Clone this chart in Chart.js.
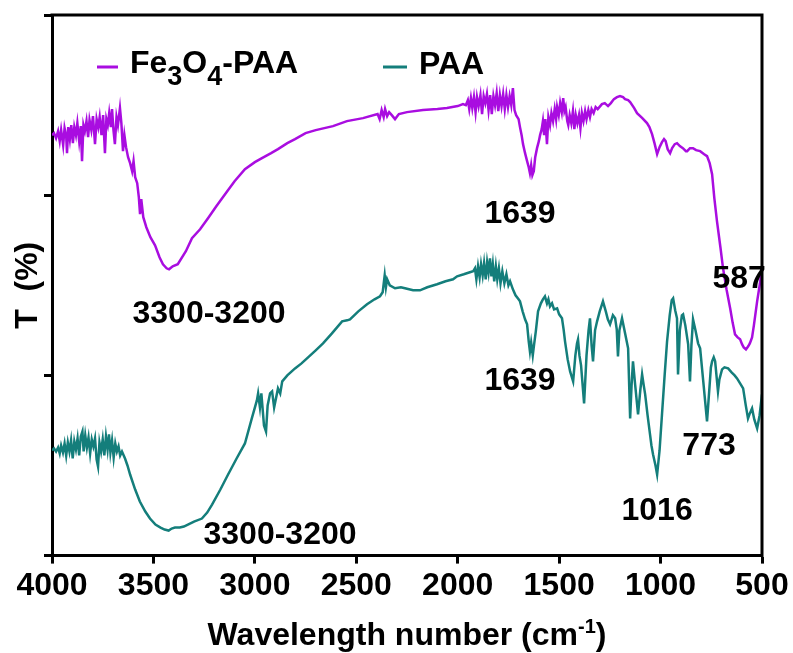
<!DOCTYPE html>
<html>
<head>
<meta charset="utf-8">
<script src="https://cdn.jsdelivr.net/npm/chart.js@4.4.1/dist/chart.umd.min.js"></script>
<style>
  html, body { margin: 0; padding: 0; background: #fff; }
  #wrap { width: 793px; height: 653px; }
</style>
</head>
<body>
<div id="wrap"><canvas id="ftir"></canvas></div>
<script>
// x ticks (wavenumber, cm-1)
var xTicks = [4000, 3500, 3000, 2500, 2000, 1500, 1000, 500];

// Fe3O4-PAA spectrum: wavenumber / transmittance (arb. units)
var fe3o4Wn = [4000,3990,3980,3970,3962,3955,3945,3938,3930,3926,3920,3912,3905,3897,3890,3882,3875,3866,3858,3852,3845,3838,3830,3822,3815,3806,3798,3788,3780,3772,3765,3756,3748,3739,3732,3725,3718,3710,3704,3697,3690,3682,3675,3665,3658,3650,3643,3635,3625,3615,3605,3598,3590,3580,3572,3566,3560,3550,3535,3515,3492,3470,3453,3435,3423,3405,3380,3340,3310,3270,3231,3190,3147,3100,3049,3000,2965,2920,2886,2840,2802,2750,2700,2615,2546,2467,2395,2385,2375,2365,2358,2348,2338,2325,2309,2290,2250,2171,2100,2053,2000,1974,1960,1950,1943,1935,1928,1920,1912,1905,1897,1888,1880,1872,1864,1856,1848,1840,1832,1824,1816,1808,1800,1792,1784,1776,1768,1760,1752,1744,1736,1728,1720,1712,1700,1693,1685,1678,1668,1658,1650,1644,1638,1632,1625,1618,1609,1600,1594,1586,1580,1574,1568,1560,1553,1545,1538,1530,1522,1515,1510,1502,1495,1487,1480,1474,1468,1460,1455,1448,1440,1432,1425,1418,1410,1402,1395,1388,1380,1372,1365,1356,1348,1340,1330,1320,1310,1289,1275,1259,1245,1230,1215,1200,1185,1175,1160,1150,1130,1116,1090,1067,1055,1042,1030,1017,1005,993,983,975,965,953,943,930,919,905,890,875,869,855,840,825,805,785,771,758,746,735,722,705,692,675,657,645,633,620,608,598,590,579,568,560,549,540,524,510,500];
var fe3o4T = [420,422,417,424,414,425,410,427,419,402,428,416,430,412,428,420,432,414,429,394,430,424,434,418,435,425,439,411,436,428,438,420,440,402,436,430,442,428,446,425,411,438,430,447,432,404,420,408,398,392,384,394,378,372,358,341,356,338,328,318,310,298,291,287,286,289,291,304,317,326,337,349,361,374,386,393,397,402,406,412,416,422,425,429,434,437,441,436,445,438,446,439,443,440,436,441,443,445,446,447,449,451,450,455,446,457,447,458,443,458,449,460,441,459,452,461,445,460,441,459,450,462,444,460,449,461,446,460,448,459,450,467,445,440,436,428,420,411,402,394,388,382,390,380,384,398,407,414,420,426,434,420,436,411,438,430,442,434,446,436,448,440,452,443,457,444,448,434,430,440,432,444,426,440,432,440,427,442,434,444,436,445,438,446,442,448,446,451,452,449,452,456,458,459,458,456,455,453,447,442,437,432,428,421,412,401,408,413,416,414,406,402,407,411,412,409,407,404,404,407,407,405,404,401,399,392,381,357,334,308,287,266,247,233,221,218,216,211,208,206,209,212,218,230,254,272,289];

// PAA spectrum
var paaWn = [4000,3990,3980,3970,3962,3955,3946,3938,3930,3922,3914,3906,3898,3890,3882,3874,3866,3858,3850,3844,3836,3828,3820,3812,3804,3796,3788,3780,3773,3766,3758,3750,3742,3734,3726,3719,3712,3704,3696,3688,3680,3672,3664,3655,3640,3628,3615,3590,3567,3540,3517,3490,3465,3445,3425,3410,3394,3370,3350,3330,3300,3261,3235,3211,3170,3132,3090,3049,3015,2990,2984,2975,2968,2955,2945,2937,2925,2915,2905,2895,2886,2875,2865,2840,2802,2770,2743,2700,2664,2620,2570,2545,2531,2490,2447,2410,2383,2370,2360,2354,2348,2335,2309,2280,2260,2220,2186,2150,2102,2060,2023,2003,1970,1940,1924,1915,1908,1900,1892,1885,1877,1870,1862,1855,1848,1841,1834,1827,1820,1812,1805,1797,1789,1780,1770,1760,1750,1742,1728,1715,1700,1693,1680,1668,1658,1650,1644,1638,1630,1624,1615,1604,1590,1580,1570,1560,1553,1545,1535,1525,1510,1500,1486,1478,1471,1458,1446,1431,1420,1412,1407,1400,1392,1377,1365,1355,1348,1340,1333,1323,1313,1300,1284,1270,1260,1249,1235,1224,1216,1210,1203,1190,1175,1160,1150,1143,1136,1125,1111,1100,1091,1083,1076,1064,1052,1045,1037,1025,1017,1005,993,980,968,955,945,938,928,919,914,905,895,889,878,864,855,848,840,828,815,805,790,771,760,752,746,738,731,717,710,697,685,667,650,635,623,608,593,580,569,560,549,538,524,512,500];
var paaT = [105,107,104,108,102,110,103,112,100,113,104,115,97,114,106,117,100,119,124,104,120,108,118,102,116,109,117,96,89,113,104,116,100,119,106,121,103,115,98,112,104,109,100,104,97,90,81,66,54,44,37,31,28,26,25,27,28,28,29,31,34,37,43,51,66,81,97,112,137,155,162,148,162,130,124,150,162,164,148,158,167,162,174,180,187,192,197,205,212,222,234,235,236,244,251,256,259,263,280,268,276,270,267,268,267,265,265,268,271,274,276,279,281,283,284,287,276,289,278,291,280,292,276,293,283,297,279,291,274,289,276,287,272,284,272,281,270,274,266,260,256,254,244,236,231,214,204,213,200,210,224,244,252,256,259,252,256,249,252,246,247,241,237,226,214,196,184,174,200,212,216,200,190,152,200,225,237,210,194,225,234,244,254,244,236,231,240,237,226,199,225,237,222,207,137,170,194,170,141,165,181,170,161,140,121,110,101,90,81,105,141,180,214,240,255,257,245,237,181,225,240,241,230,211,174,210,236,225,212,207,175,134,165,188,194,198,194,164,176,186,188,187,183,180,177,172,167,150,137,142,147,136,127,140,161];

// peak labels
var peakText = ['3300-3200', '1639', '587', '3300-3200', '1639', '1016', '773'];
var peakWn = [3226, 1693, 613, 2876, 1693, 1017, 761];
var peakT = [241, 341, 276, 20, 174, 44, 109];

var purple = '#A90DE0';
var teal = '#147E7B';
var FONT = "'Liberation Sans', Arial, sans-serif";

function toPoints(xs, ys) {
  return xs.map(function (x, i) { return { x: x, y: ys[i] }; });
}

// draws a string with subscript / superscript chunks; parts = [[text, kind]]
function drawRich(ctx, parts, x, y, size) {
  var subSize = Math.round(size * 0.84), supSize = Math.round(size * 0.64);
  parts.forEach(function (p) {
    var kind = p[1];
    var fs = kind === 'sub' ? subSize : (kind === 'sup' ? supSize : size);
    var dy = kind === 'sub' ? size * 0.36 : (kind === 'sup' ? -size * 0.38 : 0);
    ctx.font = 'bold ' + fs + 'px ' + FONT;
    ctx.fillText(p[0], x, y + dy);
    x += ctx.measureText(p[0]).width;
  });
}
function richWidth(ctx, parts, size) {
  var subSize = Math.round(size * 0.84), supSize = Math.round(size * 0.64);
  var w = 0;
  parts.forEach(function (p) {
    var fs = p[1] === 'sub' ? subSize : (p[1] === 'sup' ? supSize : size);
    ctx.font = 'bold ' + fs + 'px ' + FONT;
    w += ctx.measureText(p[0]).width;
  });
  return w;
}

var decor = {
  id: 'decor',
  afterDraw: function (chart) {
    var ctx = chart.ctx, a = chart.chartArea;
    var xs = chart.scales.x, ys = chart.scales.y;
    ctx.save();

    // top + right frame
    ctx.strokeStyle = '#000';
    ctx.lineWidth = 3;
    ctx.beginPath();
    ctx.moveTo(a.left - 1.5, a.top);
    ctx.lineTo(a.right, a.top);
    ctx.lineTo(a.right, a.bottom + 1.5);
    ctx.stroke();

    // legend
    ctx.fillStyle = '#000';
    ctx.textBaseline = 'alphabetic';
    ctx.textAlign = 'left';
    var ly = a.top + 52;
    ctx.lineWidth = 3;
    ctx.strokeStyle = purple;
    ctx.beginPath(); ctx.moveTo(a.left + 45, ly); ctx.lineTo(a.left + 66, ly); ctx.stroke();
    drawRich(ctx, [['Fe', ''], ['3', 'sub'], ['O', ''], ['4', 'sub'], ['-PAA', '']], a.left + 78, ly + 6, 32);
    ctx.strokeStyle = teal;
    ctx.beginPath(); ctx.moveTo(a.left + 331, ly); ctx.lineTo(a.left + 355, ly); ctx.stroke();
    drawRich(ctx, [['PAA', '']], a.left + 367, ly + 7, 32);

    // peak annotations
    ctx.textAlign = 'center';
    ctx.textBaseline = 'middle';
    ctx.font = 'bold 32px ' + FONT;
    peakText.forEach(function (t, i) {
      ctx.fillText(t, xs.getPixelForValue(peakWn[i]), ys.getPixelForValue(peakT[i]));
    });

    // x axis title with superscript
    ctx.textAlign = 'left';
    ctx.textBaseline = 'alphabetic';
    var title = [['Wavelength number (cm', ''], ['-1', 'sup'], [')', '']];
    var tw = richWidth(ctx, title, 32);
    drawRich(ctx, title, (a.left + a.right) / 2 - tw / 2, 645, 32);

    ctx.restore();
  }
};

new Chart(document.getElementById('ftir'), {
  type: 'line',
  data: {
    datasets: [{
      label: 'Fe3O4-PAA',
      data: toPoints(fe3o4Wn, fe3o4T),
      borderColor: purple,
      borderWidth: 2.5,
      pointRadius: 0,
      tension: 0
    }, {
      label: 'PAA',
      data: toPoints(paaWn, paaT),
      borderColor: teal,
      borderWidth: 2.5,
      pointRadius: 0,
      tension: 0
    }]
  },
  options: {
    responsive: true,
    maintainAspectRatio: false,
    animation: false,
    layout: { padding: { left: 12, right: 31, top: 15, bottom: 45 } },
    plugins: {
      legend: { display: false },
      tooltip: { enabled: false }
    },
    scales: {
      x: {
        type: 'linear',
        reverse: true,
        min: 500,
        max: 4000,
        afterBuildTicks: function (s) { s.ticks = xTicks.map(function (v) { return { value: v }; }); },
        ticks: {
          autoSkip: false,
          maxRotation: 0,
          padding: 3,
          color: '#000',
          font: { family: FONT, size: 32, weight: 'bold' },
          callback: function (v) { return String(v); }
        },
        grid: { drawOnChartArea: false, drawTicks: true, tickLength: 8, tickWidth: 3, tickColor: '#000' },
        border: { display: true, color: '#000', width: 3 }
      },
      y: {
        min: 0,
        max: 540,
        ticks: { stepSize: 180, display: false },
        grid: { drawOnChartArea: false, drawTicks: true, tickLength: 8, tickWidth: 3, tickColor: '#000' },
        border: { display: true, color: '#000', width: 3 },
        title: {
          display: true,
          text: 'T  (%)',
          color: '#000',
          padding: 0,
          font: { family: FONT, size: 32, weight: 'bold', lineHeight: 1 }
        }
      }
    }
  },
  plugins: [decor]
});
</script>
</body>
</html>
